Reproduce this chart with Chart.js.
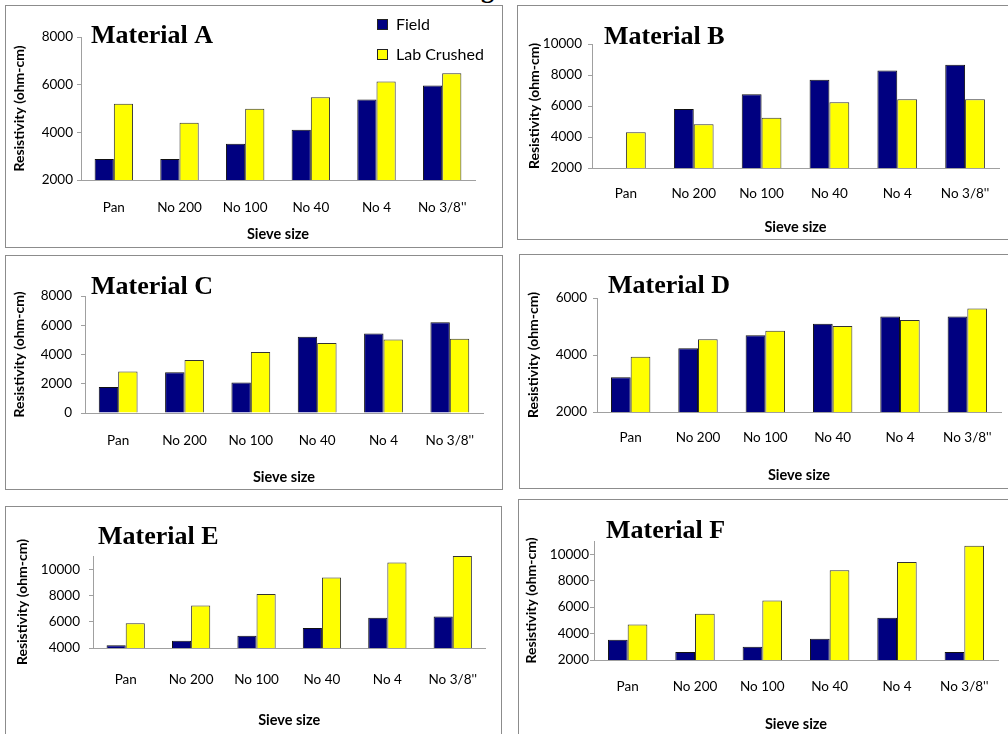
<!DOCTYPE html>
<html>
<head>
<meta charset="utf-8">
<script src="https://cdn.jsdelivr.net/npm/chart.js@4.4.1/dist/chart.umd.min.js"></script>
<style>
  html, body { margin: 0; padding: 0; background: #fff; width: 1008px; height: 734px; overflow: hidden; position: relative; }
  .panel { position: absolute; }
  .panel canvas { position: absolute; left: 0; top: 0; }
  .frame { position: absolute; left: 0; top: 0; right: 0; bottom: 0; border: 1px solid #8c8c8c; box-sizing: border-box; pointer-events: none; }
  .heading { position: absolute; left: 481px; top: -23px; font: bold 26px "Liberation Serif", serif; line-height: 26px; color: #000; }
</style>
</head>
<body>
<div class="heading">g</div>
<script>
// Sieve sizes shared by every panel
const sieveSizes = ['Pan', 'No 200', 'No 100', 'No 40', 'No 4', "No 3/8''"];
const seriesNames = ['Field', 'Lab Crushed'];

// Resistivity (ohm-cm) per material
const fieldA = [2880, 2880, 3520, 4110, 5380, 5960];
const labA   = [5200, 4400, 4990, 5470, 6130, 6480];
const fieldB = [null, 5800, 6760, 7690, 8290, 8660];
const labB   = [4310, 4830, 5240, 6240, 6430, 6430];
const fieldC = [1770, 2790, 2090, 5220, 5440, 6210];
const labC   = [2830, 3630, 4170, 4780, 5030, 5080];
const fieldD = [3220, 4240, 4690, 5100, 5350, 5350];
const labD   = [3940, 4550, 4850, 5020, 5230, 5630];
const fieldE = [4200, 4560, 4940, 5530, 6300, 6400];
const labE   = [5890, 7240, 8110, 9360, 10510, 11000];
const fieldF = [3530, 2600, 3000, 3610, 5190, 2600];
const labF   = [4690, 5500, 6500, 8790, 9420, 10650];

// Value axis ranges [min, max] and labelled tick step
const rangeA = [2000, 8000];
const rangeB = [2000, 10000];
const rangeC = [0, 8000];
const rangeD = [2000, 6000];
const rangeE = [4000, 11000];
const rangeF = [2000, 11000];
const tickStep = 2000;

const NAVY = '#000080';
const YELLOW = '#ffff00';
const AXIS = '#a0a0a0';
const SANS = 'Lato, "Open Sans", sans-serif';

// Draws the material heading (and optional legend) inside each panel
const panelText = {
  id: 'panelText',
  afterDraw(chart, args, opts) {
    const ctx = chart.ctx;
    ctx.save();
    ctx.fillStyle = '#000';
    ctx.textBaseline = 'alphabetic';
    ctx.textAlign = 'left';
    ctx.font = 'bold 26px "Liberation Serif", serif';
    ctx.fillText(opts.title, opts.tx, opts.ty);
    if (opts.legend) {
      const lg = opts.legend;
      chart.data.datasets.forEach((ds, i) => {
        const y = lg.y + i * lg.gap;
        ctx.fillStyle = ds.backgroundColor;
        ctx.fillRect(lg.x, y, 11, 11);
        ctx.strokeStyle = '#222';
        ctx.lineWidth = 1;
        ctx.strokeRect(lg.x + 0.5, y + 0.5, 10, 10);
        ctx.fillStyle = '#000';
        ctx.font = '16px ' + SANS;
        ctx.fillText(ds.label, lg.x + 19, y + 11);
      });
    }
    ctx.restore();
  }
};

function makePanel(p) {
  const wrap = document.createElement('div');
  wrap.className = 'panel';
  wrap.style.left = p.box[0] + 'px';
  wrap.style.top = p.box[1] + 'px';
  wrap.style.width = p.box[2] + 'px';
  wrap.style.height = p.box[3] + 'px';
  const canvas = document.createElement('canvas');
  canvas.width = p.box[2];
  canvas.height = p.box[3];
  canvas.style.width = p.box[2] + 'px';
  canvas.style.height = p.box[3] + 'px';
  wrap.appendChild(canvas);
  const frame = document.createElement('div');
  frame.className = 'frame';
  wrap.appendChild(frame);
  document.body.appendChild(wrap);

  new Chart(canvas, {
    type: 'bar',
    data: {
      labels: sieveSizes,
      datasets: [
        { label: seriesNames[0], data: p.field, backgroundColor: NAVY, borderColor: '#111', borderWidth: 1 },
        { label: seriesNames[1], data: p.lab, backgroundColor: YELLOW, borderColor: '#333', borderWidth: 1 }
      ]
    },
    options: {
      responsive: false,
      animation: false,
      devicePixelRatio: 1,
      layout: { padding: { left: 0, right: p.padRight, top: p.padTop, bottom: 0 } },
      datasets: { bar: { categoryPercentage: 0.585, barPercentage: 1.0 } },
      plugins: {
        legend: { display: false },
        tooltip: { enabled: false },
        panelText: { title: p.title, tx: p.titlePos[0], ty: p.titlePos[1], legend: p.legend }
      },
      scales: {
        x: {
          grid: { display: true, drawOnChartArea: false, drawTicks: false },
          border: { display: true, color: AXIS, width: 1 },
          ticks: { padding: p.xTickPad, color: '#000', font: { family: SANS, size: 13.5 }, maxRotation: 0, autoSkip: false },
          title: { display: true, text: 'Sieve size', color: '#000', font: { family: SANS, size: 14.5, weight: 'bold' }, padding: { top: 0, bottom: p.xTitlePad } },
          afterFit(s) { s.height = p.xHeight; }
        },
        y: {
          min: p.range[0],
          max: p.range[1],
          ticks: { padding: p.yTickPad, color: '#000', font: { family: SANS, size: 13.5 }, callback: v => String(v) },
          grid: { display: true, drawOnChartArea: false, drawTicks: true, tickLength: 4, color: AXIS },
          border: { display: true, color: AXIS, width: 1 },
          title: { display: true, text: 'Resistivity (ohm-cm)', color: '#000', font: { family: SANS, size: 14, weight: 'bold' }, padding: { top: p.yTitlePad, bottom: 0 } },
          afterBuildTicks(s) {
            const t = [];
            for (let v = p.range[0]; v <= p.range[1]; v += tickStep) t.push({ value: v });
            s.ticks = t;
          },
          afterFit(s) { s.width = p.yWidth; }
        }
      }
    },
    plugins: [panelText]
  });
}

const panels = [
  { title: 'Material A', field: fieldA, lab: labA, range: rangeA,
    box: [5, 5, 498, 243], yWidth: 76, padRight: 28, padTop: 32, xHeight: 68,
    xTickPad: 20, xTitlePad: 5, yTitlePad: 6, yTickPad: 4, titlePos: [86, 38],
    legend: { x: 372, y: 14, gap: 30 } },
  { title: 'Material B', field: fieldB, lab: labB, range: rangeB,
    box: [517, 5, 495, 235], yWidth: 75, padRight: 13, padTop: 39, xHeight: 72,
    xTickPad: 18, xTitlePad: 4, yTitlePad: 9, yTickPad: 6, titlePos: [87, 39] },
  { title: 'Material C', field: fieldC, lab: labC, range: rangeC,
    box: [5, 255, 498, 235], yWidth: 80, padRight: 20, padTop: 41, xHeight: 77,
    xTickPad: 20, xTitlePad: 4, yTitlePad: 6, yTickPad: 9, titlePos: [86, 39] },
  { title: 'Material D', field: fieldD, lab: labD, range: rangeD,
    box: [519, 254, 493, 235], yWidth: 78, padRight: 11, padTop: 44, xHeight: 77,
    xTickPad: 18, xTitlePad: 5, yTitlePad: 6, yTickPad: 6, titlePos: [89, 39] },
  { title: 'Material E', field: fieldE, lab: labE, range: rangeE,
    box: [5, 506, 497, 239], yWidth: 88, padRight: 12, padTop: 50, xHeight: 97,
    xTickPad: 24, xTitlePad: 16, yTitlePad: 9, yTickPad: 9, titlePos: [93, 38] },
  { title: 'Material F', field: fieldF, lab: labF, range: rangeF,
    box: [518, 499, 494, 246], yWidth: 76, padRight: 14, padTop: 42, xHeight: 85,
    xTickPad: 19, xTitlePad: 12, yTitlePad: 5, yTickPad: 1, titlePos: [88, 39] }
];

panels.forEach(makePanel);
</script>
</body>
</html>
